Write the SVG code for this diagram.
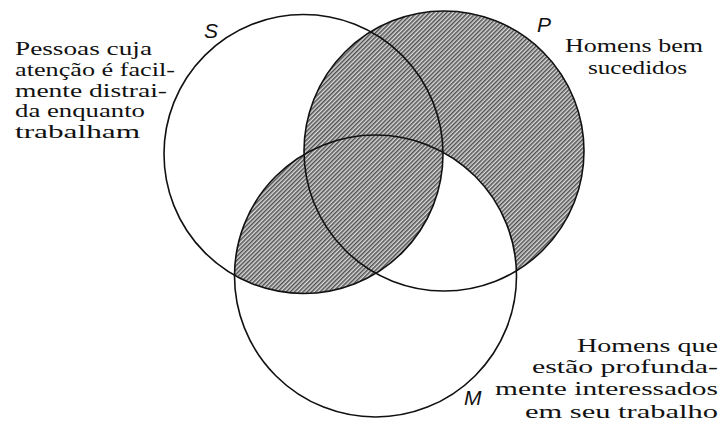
<svg xmlns="http://www.w3.org/2000/svg" width="723" height="426" viewBox="0 0 723 426">
<style>
.c{fill:none;stroke:#111;stroke-width:1.6}
.l{font-family:"Liberation Sans",Arial,sans-serif;font-style:italic;font-size:21px;fill:#111}
</style>
<defs>
<pattern id="hatch" width="3" height="3" patternUnits="userSpaceOnUse" patternTransform="rotate(45)">
<rect width="3" height="3" fill="#dadada"/>
<line x1="0.8" y1="0" x2="0.8" y2="3" stroke="#333" stroke-width="1.25"/>
</pattern>
<clipPath id="clipS"><circle cx="303.5" cy="154" r="139.5"/></clipPath>
<mask id="pNotM" maskUnits="userSpaceOnUse" x="0" y="0" width="723" height="426">
<circle cx="444" cy="151" r="140" fill="#fff"/>
<circle cx="375.5" cy="276" r="141" fill="#000"/>
</mask>
</defs>
<g id="shading">
<rect x="0" y="0" width="723" height="426" fill="url(#hatch)" mask="url(#pNotM)"/>
<g clip-path="url(#clipS)">
<circle cx="444" cy="151" r="140" fill="url(#hatch)"/>
<circle cx="375.5" cy="276" r="141" fill="url(#hatch)"/>
</g>
</g>
<g id="S">
<circle class="c" cx="303.5" cy="154" r="139.5"/>
<text class="l" x="204" y="38">S</text>
<text x="15" y="55" font-family="Liberation Serif" font-size="18" fill="#111" textLength="137" lengthAdjust="spacingAndGlyphs">Pessoas cuja</text>
<text x="15" y="76" font-family="Liberation Serif" font-size="18" fill="#111" textLength="160" lengthAdjust="spacingAndGlyphs">atenção é facil-</text>
<text x="15" y="97" font-family="Liberation Serif" font-size="18" fill="#111" textLength="152" lengthAdjust="spacingAndGlyphs">mente distrai-</text>
<text x="15" y="117" font-family="Liberation Serif" font-size="18" fill="#111" textLength="130" lengthAdjust="spacingAndGlyphs">da enquanto</text>
<text x="15" y="138" font-family="Liberation Serif" font-size="18" fill="#111" textLength="125" lengthAdjust="spacingAndGlyphs">trabalham</text>
</g>
<g id="P">
<circle class="c" cx="444" cy="151" r="140"/>
<text class="l" x="537" y="32">P</text>
<text x="565" y="52" font-family="Liberation Serif" font-size="18" fill="#111" textLength="138" lengthAdjust="spacingAndGlyphs">Homens bem</text>
<text x="588" y="74" font-family="Liberation Serif" font-size="18" fill="#111" textLength="99" lengthAdjust="spacingAndGlyphs">sucedidos</text>
</g>
<g id="M">
<circle class="c" cx="375.5" cy="276" r="141"/>
<text class="l" x="464" y="405">M</text>
<text x="577" y="352" font-family="Liberation Serif" font-size="18" fill="#111" textLength="141" lengthAdjust="spacingAndGlyphs">Homens que</text>
<text x="532" y="373" font-family="Liberation Serif" font-size="18" fill="#111" textLength="186" lengthAdjust="spacingAndGlyphs">estão profunda-</text>
<text x="495" y="395" font-family="Liberation Serif" font-size="18" fill="#111" textLength="223" lengthAdjust="spacingAndGlyphs">mente interessados</text>
<text x="525" y="418" font-family="Liberation Serif" font-size="18" fill="#111" textLength="193" lengthAdjust="spacingAndGlyphs">em seu trabalho</text>
</g>
</svg>
